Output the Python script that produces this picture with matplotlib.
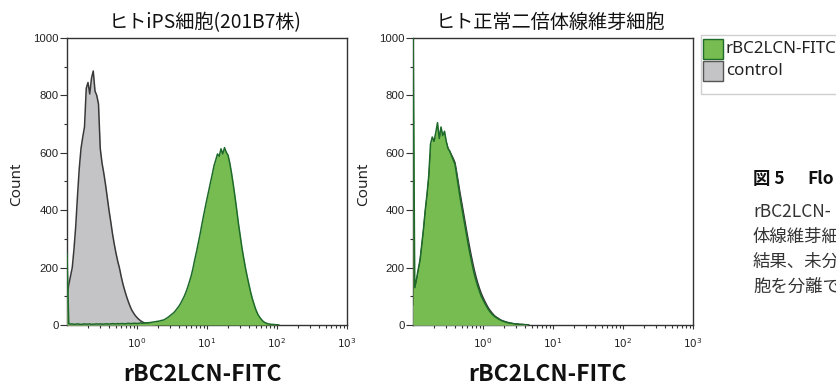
import numpy as np
import matplotlib
matplotlib.use("Agg")
import matplotlib.pyplot as plt
from matplotlib.ticker import MultipleLocator, NullFormatter, FixedLocator
from matplotlib.patches import Rectangle

# ---------------- data ----------------
panel_titles = ["ヒトiPS細胞(201B7株)", "ヒト正常二倍体線維芽細胞"]
x_label = "rBC2LCN-FITC"
y_label = "Count"
legend_labels = ["rBC2LCN-FITC", "control"]
xtick_values = [1, 10, 100, 1000]
xtick_labels = [r"$10^{0}$", r"$10^{1}$", r"$10^{2}$", r"$10^{3}$"]
ytick_values = [0, 200, 400, 600, 800, 1000]
ytick_labels = ["0", "200", "400", "600", "800", "1000"]

# histogram bins: log10(FITC) starting at -1.0, 0.025 decade per bin
bin_log_start = -1.0
bin_log_step = 0.025

# iPS cells (201B7) - control (grey)
ips_control = [100, 140, 170, 200, 265, 345, 450, 545, 615, 655,
               690, 825, 845, 805, 860, 885, 815, 800, 770, 615,
               565, 530, 490, 445, 400, 360, 318, 282, 250, 222,
               198, 168, 142, 120, 100, 82, 66, 52, 42, 33,
               26, 20, 15, 11, 8, 6, 5, 3, 2, 1,
               1, 0, 0]
# iPS cells (201B7) - rBC2LCN-FITC (green)
ips_rbc2lcn = [250,
               5, 3, 4, 2, 3, 4, 3, 2, 3, 4,
               3, 3, 4, 2, 3, 3, 4, 3, 4, 3,
               3, 4, 4, 3, 4, 5, 4, 4, 5, 4,
               5, 5, 4, 5, 6, 5, 5, 6, 6, 5,
               6, 7, 6, 7, 7, 8,
               8, 9, 10, 11, 12, 13, 14, 16, 17, 20,
               24, 28, 33, 38, 43, 50, 58, 66, 76, 88,
               100, 115, 132, 152, 172, 198, 228, 255, 285, 315,
               348, 380, 410, 440, 468, 497, 525, 555, 575, 596,
               588, 614, 596, 618, 602, 592, 565, 530, 490, 447,
               400, 352, 310, 268, 232, 198, 168, 140, 113, 90,
               70, 52, 38, 28, 20, 13, 9, 6, 4, 3,
               2, 2, 1, 1, 0]
# fibroblasts - rBC2LCN-FITC (green)
fib_rbc2lcn = [1100, 130, 160, 195, 225, 280, 335, 400, 455, 520,
               630, 655, 640, 670, 705, 650, 690, 660, 675, 640,
               615, 605, 590, 575, 560, 520, 480, 440, 405, 370,
               335, 300, 265, 235, 205, 178, 155, 135, 117, 100,
               88, 76, 65, 55, 46, 39, 33, 28, 24, 20,
               17, 14, 12, 10, 8, 7, 6, 5, 4, 3,
               3, 2, 2, 1, 1, 1, 0]
# fibroblasts - control (grey)
fib_control = [70, 120, 150, 185, 220, 270, 325, 390, 445, 505,
               590, 620, 630, 650, 660, 640, 665, 650, 655, 635,
               615, 605, 592, 580, 565, 530, 492, 455, 420, 385,
               350, 315, 282, 250, 220, 192, 168, 146, 127, 110,
               96, 83, 71, 60, 51, 43, 36, 30, 26, 22,
               18, 15, 13, 11, 9, 8, 6, 5, 4, 4,
               3, 2, 2, 2, 1, 1, 0]

caption_title = ["図 5", "Flo"]
caption_lines = ["rBC2LCN-", "体線維芽細", "結果、未分", "胞を分離で"]

# ---------------- style ----------------
GREEN_FILL = "#76bc50"
GREEN_EDGE = "#1d6a2a"
GREY_FILL = "#c4c4c6"
GREY_EDGE = "#383838"
AX_COL = "#333333"
CJK = ["Noto Sans CJK JP", "DejaVu Sans"]

W, H = 837, 385
fig = plt.figure(figsize=(W / 100, H / 100), dpi=100)


def bins(values):
    return 10 ** (bin_log_start + bin_log_step * np.arange(len(values)))


def draw_hist(ax, values, fill, edge, z):
    x = bins(values)
    y = np.asarray(values, dtype=float)
    ax.fill_between(x, y, color=fill, lw=0, zorder=z)
    ax.plot(x, y, color=edge, lw=1.1, zorder=z + 0.1)


def style_axes(ax):
    ax.set_xscale("log")
    ax.set_xlim(0.1, 1000)
    ax.set_ylim(0, 1000)
    ax.xaxis.set_major_locator(FixedLocator(xtick_values))
    ax.set_xticklabels(xtick_labels)
    ax.xaxis.set_minor_formatter(NullFormatter())
    ax.set_yticks(ytick_values)
    ax.set_yticklabels(ytick_labels)
    ax.yaxis.set_minor_locator(MultipleLocator(100))
    for s in ax.spines.values():
        s.set_color(AX_COL)
        s.set_linewidth(1.0)
    ax.tick_params(axis="both", which="both", direction="out", color=AX_COL,
                   labelcolor="#222222", width=0.8)
    ax.tick_params(axis="y", which="major", length=5, pad=1, labelsize=8.2)
    ax.tick_params(axis="y", which="minor", length=2.5)
    ax.tick_params(axis="x", which="major", length=3, pad=5, labelsize=7.5)
    ax.tick_params(axis="x", which="minor", length=2.5)
    for lab in ax.get_yticklabels():
        lab.set_fontfamily("Liberation Sans")


axL = fig.add_axes([67 / W, 60 / H, 280 / W, 287 / H])
axR = fig.add_axes([413 / W, 60 / H, 280 / W, 287 / H])

draw_hist(axL, ips_control, GREY_FILL, GREY_EDGE, 3)
draw_hist(axL, ips_rbc2lcn, GREEN_FILL, GREEN_EDGE, 4)
draw_hist(axR, fib_control, GREY_FILL, GREY_EDGE, 3)
draw_hist(axR, fib_rbc2lcn, GREEN_FILL, GREEN_EDGE, 4)

for ax, title, cx in [(axL, panel_titles[0], 205), (axR, panel_titles[1], 550)]:
    style_axes(ax)
    fig.text(cx / W, 1 - 28 / H, title, ha="center", va="baseline",
             fontsize=13.8, family=CJK, color="#111111")
    fig.text((cx - 2) / W, 4 / H, x_label, ha="center", va="baseline",
             fontsize=16.5, fontweight="bold", family=CJK, color="#111111")

fig.text(17 / W, 1 - 184 / H, y_label, rotation=90, ha="center", va="center",
         fontsize=11, family="Noto Sans", color="#222222")
fig.text(364 / W, 1 - 184 / H, y_label, rotation=90, ha="center", va="center",
         fontsize=11, family="Noto Sans", color="#222222")

# legend (drawn as a box with colour swatches)
fig.patches.append(Rectangle((701 / W, 1 - 94 / H), 160 / W, 59 / H,
                             transform=fig.transFigure, fill=False,
                             edgecolor="#cfcfcf", lw=1.0))
for i, (lab, fc, ec) in enumerate(zip(legend_labels, [GREEN_FILL, GREY_FILL],
                                      [GREEN_EDGE, "#555555"])):
    top = 39 + i * 22
    fig.patches.append(Rectangle((703 / W, 1 - (top + 20) / H), 20 / W, 20 / H,
                                 transform=fig.transFigure, facecolor=fc,
                                 edgecolor=ec, lw=1.0))
    fig.text(726 / W, 1 - (top + 10) / H, lab, ha="left", va="center",
             fontsize=12.2, family="Noto Sans", color="#222222")

# caption (cut off at the right edge of the image, as in the source)
fig.text(753 / W, 1 - 179 / H, caption_title[0], ha="left", va="center",
         fontsize=12.5, fontweight="bold", family=CJK, color="#111111")
fig.text(807 / W, 1 - 179 / H, caption_title[1], ha="left", va="center",
         fontsize=12.5, fontweight="bold", family=CJK, color="#111111")
for k, line in enumerate(caption_lines):
    fig.text(753 / W, 1 - (212 + 25 * k) / H, line, ha="left", va="center",
             fontsize=12.5, family=CJK, color="#333333")

fig.savefig("out.png", dpi=100)
